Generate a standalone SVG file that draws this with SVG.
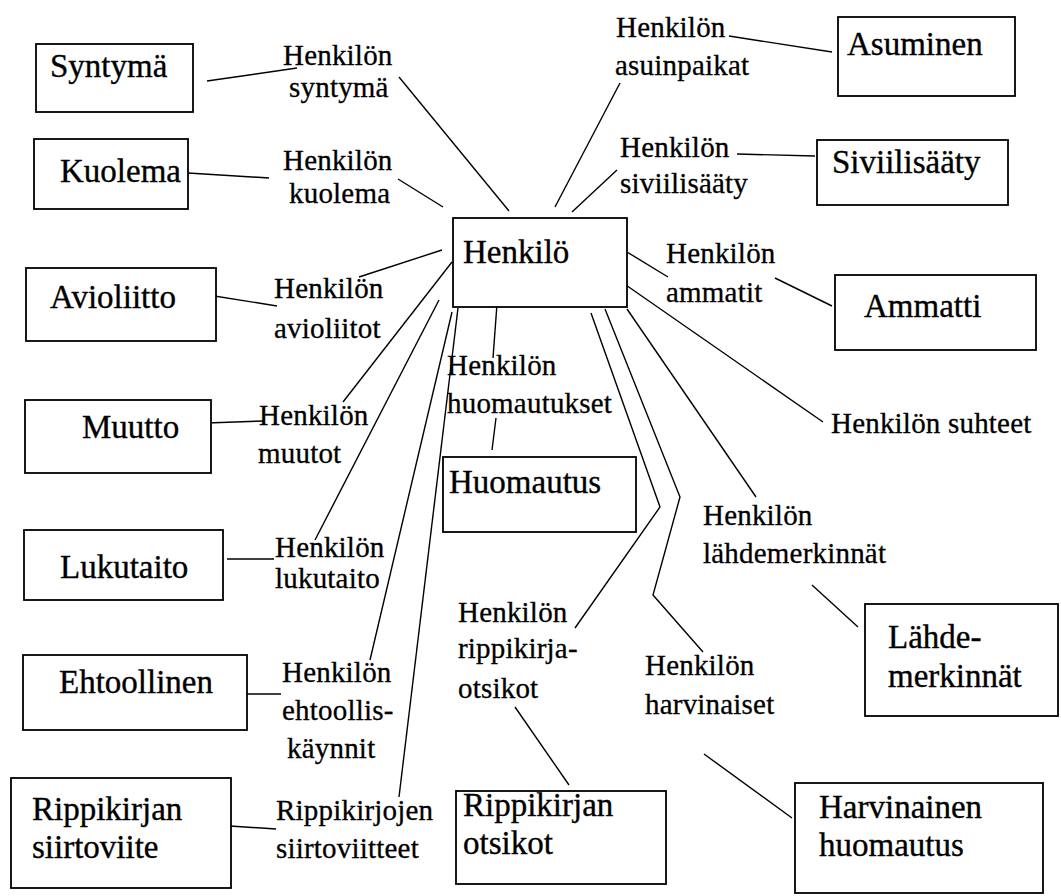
<svg xmlns="http://www.w3.org/2000/svg" width="1061" height="896" viewBox="0 0 1061 896">
<style>
.box{fill:#fff;stroke:#000;stroke-width:1.8}
.bt{font-family:"Liberation Serif","Times New Roman",serif;font-size:33px;fill:#000;stroke:#000;stroke-width:0.35}
.lt{font-family:"Liberation Serif","Times New Roman",serif;font-size:29px;fill:#000;stroke:#000;stroke-width:0.3;letter-spacing:0.2px}
.ln{fill:none;stroke:#000;stroke-width:1.4}
</style>
<rect width="1061" height="896" fill="#fff"/>
<g id="connectors">
<line class="ln" x1="207" y1="81" x2="297" y2="68"/>
<line class="ln" x1="399" y1="77" x2="509" y2="211"/>
<line class="ln" x1="188" y1="173" x2="269" y2="178"/>
<line class="ln" x1="398" y1="179" x2="443" y2="207"/>
<line class="ln" x1="729" y1="36" x2="832" y2="52"/>
<line class="ln" x1="555" y1="207" x2="620" y2="83"/>
<line class="ln" x1="737" y1="154" x2="815" y2="156"/>
<line class="ln" x1="572" y1="212" x2="617" y2="170"/>
<line class="ln" x1="627" y1="252" x2="668" y2="277"/>
<line class="ln" x1="775" y1="278" x2="832" y2="306"/>
<line class="ln" x1="623" y1="283" x2="823" y2="422"/>
<line class="ln" x1="627" y1="309" x2="756" y2="497"/>
<line class="ln" x1="812" y1="585" x2="858" y2="627"/>
<polyline class="ln" points="591,313 660,507 575,628"/>
<polyline class="ln" points="605,309 680,497 653,595 703,652"/>
<line class="ln" x1="704" y1="754" x2="792" y2="818"/>
<line class="ln" x1="515" y1="707" x2="569" y2="785"/>
<line class="ln" x1="497" y1="304" x2="493" y2="358"/>
<line class="ln" x1="496" y1="418" x2="492" y2="450"/>
<line class="ln" x1="442" y1="250" x2="359" y2="277"/>
<line class="ln" x1="208" y1="295" x2="277" y2="306"/>
<line class="ln" x1="452" y1="262" x2="343" y2="402"/>
<line class="ln" x1="207" y1="423" x2="263" y2="421"/>
<line class="ln" x1="439" y1="300" x2="315" y2="540"/>
<line class="ln" x1="227" y1="559" x2="274" y2="559"/>
<line class="ln" x1="452" y1="312" x2="370" y2="660"/>
<line class="ln" x1="247" y1="694" x2="281" y2="694"/>
<line class="ln" x1="458" y1="308" x2="399" y2="797"/>
<line class="ln" x1="230" y1="826" x2="276" y2="829"/>
<g id="labels">
<text class="lt" x="283" y="65">Henkilön</text>
<text class="lt" x="289" y="97">syntymä</text>
<text class="lt" x="283" y="170">Henkilön</text>
<text class="lt" x="289" y="203">kuolema</text>
<text class="lt" x="616" y="37">Henkilön</text>
<text class="lt" x="615" y="75">asuinpaikat</text>
<text class="lt" x="620" y="157">Henkilön</text>
<text class="lt" x="620" y="193">siviilisääty</text>
<text class="lt" x="666" y="263">Henkilön</text>
<text class="lt" x="666" y="302">ammatit</text>
<text class="lt" x="831" y="433">Henkilön suhteet</text>
<text class="lt" x="703" y="525">Henkilön</text>
<text class="lt" x="703" y="563">lähdemerkinnät</text>
<text class="lt" x="645" y="675">Henkilön</text>
<text class="lt" x="645" y="714">harvinaiset</text>
<text class="lt" x="458" y="622">Henkilön</text>
<text class="lt" x="458" y="658">rippikirja-</text>
<text class="lt" x="458" y="698">otsikot</text>
<text class="lt" x="447" y="375">Henkilön</text>
<text class="lt" x="447" y="413">huomautukset</text>
<text class="lt" x="274" y="298">Henkilön</text>
<text class="lt" x="274" y="338">avioliitot</text>
<text class="lt" x="259" y="425">Henkilön</text>
<text class="lt" x="258" y="463">muutot</text>
<text class="lt" x="275" y="557">Henkilön</text>
<text class="lt" x="275" y="588">lukutaito</text>
<text class="lt" x="282" y="682">Henkilön</text>
<text class="lt" x="282" y="720">ehtoollis-</text>
<text class="lt" x="287" y="758">käynnit</text>
<text class="lt" x="276" y="820">Rippikirjojen</text>
<text class="lt" x="276" y="858">siirtoviitteet</text>
</g>
</g>
<g id="syntyma"><rect class="box" x="36" y="44" width="157" height="68"/><text class="bt" x="50" y="77">Syntymä</text></g>
<g id="kuolema"><rect class="box" x="34" y="139" width="154" height="70"/><text class="bt" x="60" y="182">Kuolema</text></g>
<g id="avioliitto"><rect class="box" x="26" y="268" width="190" height="73"/><text class="bt" x="50" y="308">Avioliitto</text></g>
<g id="muutto"><rect class="box" x="25" y="400" width="186" height="73"/><text class="bt" x="82" y="438">Muutto</text></g>
<g id="lukutaito"><rect class="box" x="24" y="530" width="199" height="70"/><text class="bt" x="60" y="578">Lukutaito</text></g>
<g id="ehtoollinen"><rect class="box" x="23" y="655" width="224" height="75"/><text class="bt" x="59" y="693">Ehtoollinen</text></g>
<g id="rippikirjan-siirtoviite"><rect class="box" x="11" y="778" width="220" height="110"/><text class="bt" x="32" y="820">Rippikirjan</text><text class="bt" x="32" y="858">siirtoviite</text></g>
<g id="henkilo"><rect class="box" x="453" y="218" width="174" height="89"/><text class="bt" x="463" y="263">Henkilö</text></g>
<g id="huomautus"><rect class="box" x="443" y="457" width="193" height="75"/><text class="bt" x="449" y="493">Huomautus</text></g>
<g id="rippikirjan-otsikot"><rect class="box" x="456" y="791" width="210" height="93"/><text class="bt" x="463" y="816">Rippikirjan</text><text class="bt" x="463" y="854">otsikot</text></g>
<g id="harvinainen-huomautus"><rect class="box" x="795" y="783" width="248" height="110"/><text class="bt" x="819" y="818">Harvinainen</text><text class="bt" x="819" y="856">huomautus</text></g>
<g id="lahdemerkinnat"><rect class="box" x="865" y="604" width="193" height="112"/><text class="bt" x="888" y="648">Lähde-</text><text class="bt" x="888" y="687">merkinnät</text></g>
<g id="ammatti"><rect class="box" x="835" y="275" width="201" height="75"/><text class="bt" x="864" y="317">Ammatti</text></g>
<g id="siviilisaaty"><rect class="box" x="817" y="140" width="191" height="65"/><text class="bt" x="832" y="173">Siviilisääty</text></g>
<g id="asuminen"><rect class="box" x="838" y="17" width="177" height="79"/><text class="bt" x="847" y="55">Asuminen</text></g>
</svg>
